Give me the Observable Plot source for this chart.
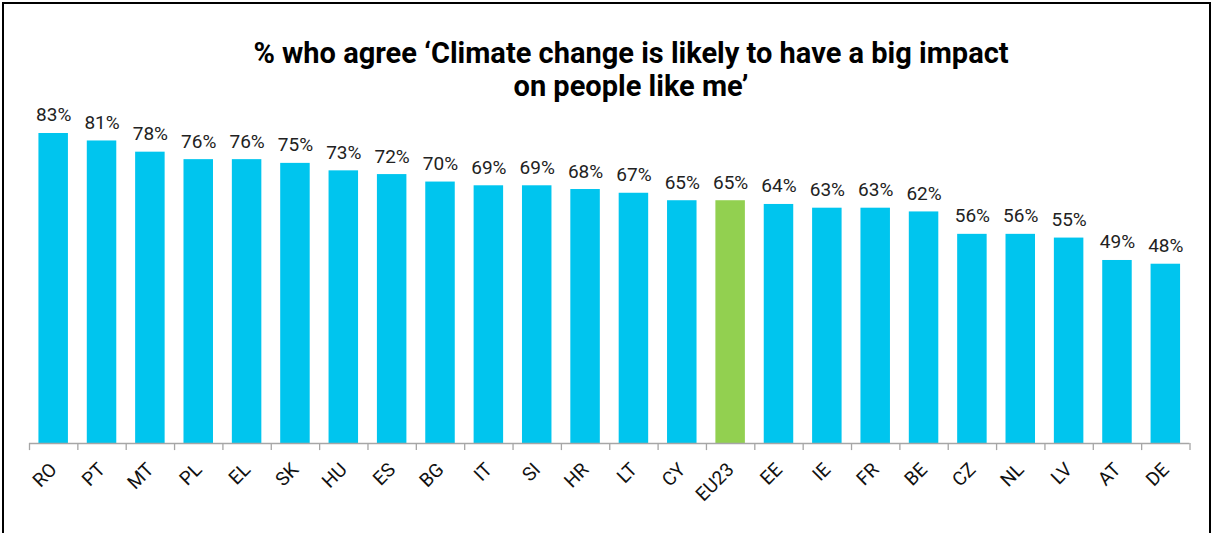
<!DOCTYPE html>
<html>
<head>
<meta charset="utf-8">
<script src="https://cdn.jsdelivr.net/npm/d3@7"></script>
<script src="https://cdn.jsdelivr.net/npm/@observablehq/plot@0.6"></script>
<style>
  html, body { margin: 0; padding: 0; background: #fff; overflow: hidden; }
  #page { position: relative; width: 1211px; height: 533px; }
  #frame { position: absolute; left: 2px; top: 2px; width: 1209px; height: 531px; z-index: 2; pointer-events: none;
           box-sizing: border-box; border: 2.5px solid #000; border-bottom: none; }
  #title { position: absolute; left: 131px; top: 37px; width: 1000px; text-align: center;
           font-family: Roboto, sans-serif; font-weight: 700; font-size: 29px; line-height: 33px; color: #000; }
  #chart { position: absolute; left: 0; top: 100px; }
</style>
</head>
<body>
<div id="page">
  <div id="frame"></div>
  <div id="title">% who agree ‘Climate change is likely to have a big impact<br>on people like me’</div>
  <div id="chart"></div>
</div>
<script>
const countries = ["RO","PT","MT","PL","EL","SK","HU","ES","BG","IT","SI","HR","LT","CY","EU23","EE","IE","FR","BE","CZ","NL","LV","AT","DE"];
const values = [83,81,78,76,76,75,73,72,70,69,69,68,67,65,65,64,63,63,62,56,56,55,49,48];
const highlight = "EU23";

const data = countries.map((c, i) => ({country: c, value: values[i]}));

const W = 1211, H = 433;
const mL = 29, mR = 21.5;
const step = (W - mL - mR) / countries.length;

const chart = Plot.plot({
  width: W,
  height: H,
  marginLeft: mL,
  marginRight: mR,
  marginTop: 0,
  marginBottom: 90,
  style: {fontFamily: "Roboto, sans-serif", fontSize: "19px", background: "transparent", overflow: "visible"},
  x: {domain: countries, paddingInner: 0.39, paddingOuter: 0.195, round: false, label: null},
  y: {domain: [0, 100], range: [343, -30.5], axis: null},
  marks: [
    Plot.barY(data, {x: "country", y: "value", fill: d => d.country === highlight ? "#92D050" : "#00C5EE"}),
    Plot.text(data, {x: "country", y: "value", text: d => d.value + "%", lineAnchor: "bottom", dy: -12,
                     fontSize: 19, fill: "#222"}),
    Plot.ruleY([0], {stroke: "#a6a6a6", strokeWidth: 1.3}),
    Plot.ruleX(countries, {x: d => d, y1: 0, y2: -1.9, dx: -step / 2, stroke: "#a6a6a6", strokeWidth: 1.3}),
    Plot.ruleX(countries.slice(-1), {x: d => d, y1: 0, y2: -1.9, dx: step / 2, stroke: "#a6a6a6", strokeWidth: 1.3}),
    Plot.axisX({tickSize: 0, tickPadding: 23, tickRotate: -45, fontSize: 19, fill: "#111", label: null})
  ]
});
document.getElementById("chart").appendChild(chart);
</script>
</body>
</html>
